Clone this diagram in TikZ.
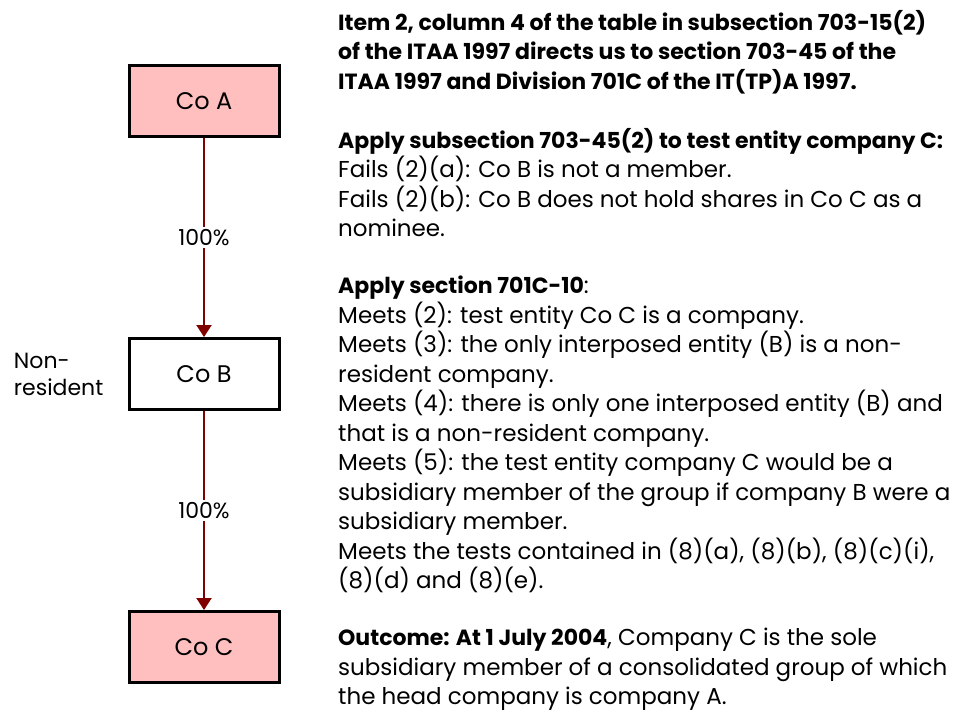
\documentclass[tikz,border=0pt]{standalone}
\usepackage{fontspec}
\setmainfont{Poppins}
\usepackage{tikz}
\usetikzlibrary{arrows.meta}
\usetikzlibrary{positioning}
\definecolor{boxpink}{RGB}{255,191,191}
\definecolor{linkred}{RGB}{128,0,0}
\newcommand{\hd}[1]{{\fontsize{22}{29.5}\selectfont\bfseries #1}}

\begin{document}
\begin{tikzpicture}[x=1pt,y=-1pt,->,>={Triangle[width=15pt,length=12pt]},node distance=199pt,
  co node/.style={rectangle,draw=black,line width=3pt,minimum width=150pt,minimum height=71pt,font=\fontsize{24}{28}\selectfont},
  pct node/.style={fill=white,inner sep=2pt,font=\fontsize{22}{26}\selectfont},
  body/.style={anchor=north west,align=left,inner sep=0pt,font=\fontsize{23}{29.5}\selectfont}]
  \useasboundingbox (0,0) rectangle (965,713);

  % ownership chain
  \node[co node,fill=boxpink] (A) at (204,101) {Co A};
  \node[co node,fill=white] (B) [below=of A] {Co B};
  \node[co node,fill=boxpink] (C) [below=of B] {Co C};
  \node[align=left,inner sep=0pt,font=\fontsize{22}{27}\selectfont] (nr) [left=24pt of B] {Non-\\resident};

  \path (A) edge [draw=linkred,line width=2pt] node [pct node] {100\%} (B);
  \path (B) edge [draw=linkred,line width=2pt] node [pct node] {100\%} (C);

  % explanation
  \node[body] (t1) at (338,10) {\hd{Item 2, column 4 of the table in subsection 703-15(2)}\\
    \hd{of the ITAA 1997 directs us to section 703-45 of the}\\
    \hd{ITAA 1997 and Division 701C of the IT(TP)A 1997.}};
  \node[body] (t2) at (338,128) {\hd{Apply subsection 703-45(2) to test entity company C:}\\
    Fails (2)(a): Co B is not a member.\\
    Fails (2)(b): Co B does not hold shares in Co C as a\\
    nominee.};
  \node[body] (t3) at (338,276) {\hd{Apply section 701C-10}:\\
    Meets (2): test entity Co C is a company.\\
    Meets (3): the only interposed entity (B) is a non-\\
    resident company.\\
    Meets (4): there is only one interposed entity (B) and\\
    that is a non-resident company.\\
    Meets (5): the test entity company C would be a\\
    subsidiary member of the group if company B were a\\
    subsidiary member.\\
    Meets the tests contained in (8)(a), (8)(b), (8)(c)(i),\\
    (8)(d) and (8)(e).};
  \node[body] (t4) at (338,628) {\hd{Outcome: At 1 July 2004}, Company C is the sole\\
    subsidiary member of a consolidated group of which\\
    the head company is company A.};
\end{tikzpicture}
\end{document}
